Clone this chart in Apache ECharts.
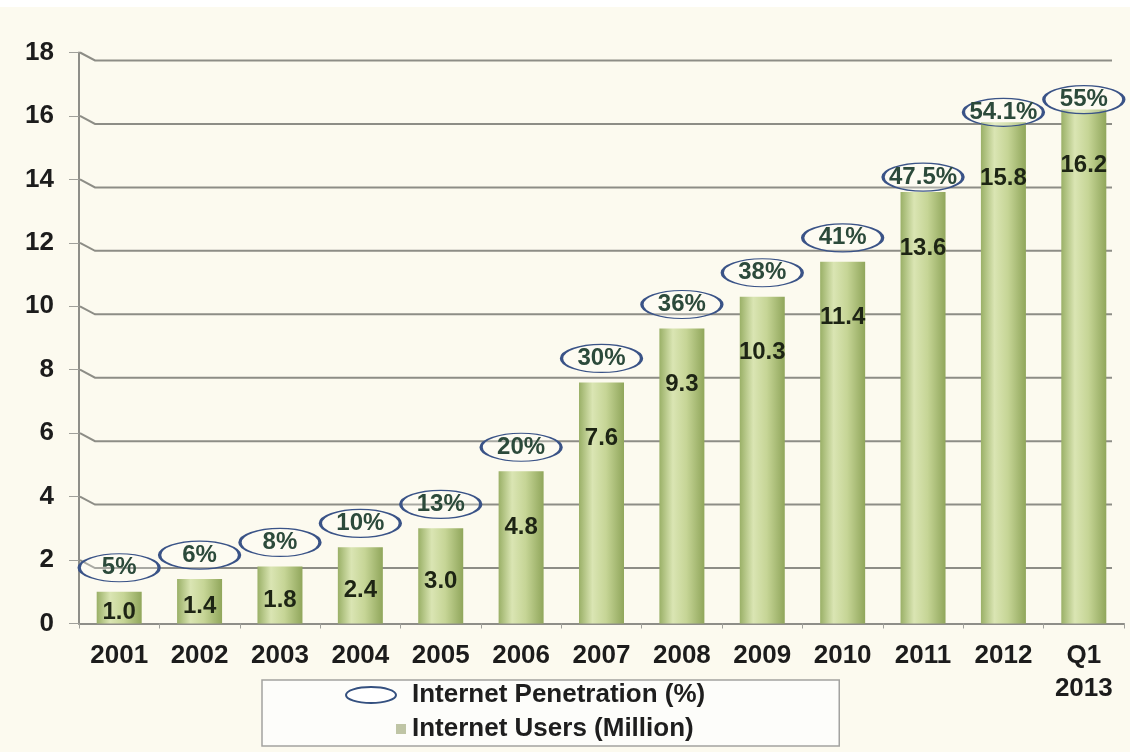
<!DOCTYPE html>
<html><head><meta charset="utf-8">
<script src="https://cdn.jsdelivr.net/npm/echarts@6/dist/echarts.min.js"></script>
<style>html,body{margin:0;padding:0;background:#fcfaef;}#chart{width:1130px;height:752px;}</style>
</head><body><div id="chart"></div>
<script>
const categories = ['2001','2002','2003','2004','2005','2006','2007','2008','2009','2010','2011','2012','Q1\n2013'];
const internetUsers = [1.0,1.4,1.8,2.4,3.0,4.8,7.6,9.3,10.3,11.4,13.6,15.8,16.2];
const penetration = [5,6,8,10,13,20,30,36,38,41,47.5,54.1,55];
const yTicks = [0,2,4,6,8,10,12,14,16,18];

const FONT = '"Liberation Sans", Arial, sans-serif';
const chart = echarts.init(document.getElementById('chart'), null, {renderer:'canvas'});
const barGradient = new echarts.graphic.LinearGradient(0,0,1,0,[
  {offset:0, color:'#9ab067'},
  {offset:0.3, color:'#dae5b3'},
  {offset:0.6, color:'#c6d596'},
  {offset:1, color:'#90a65b'}
]);

const option = {
  backgroundColor:'#fcfaef',
  animation:false,
  graphic:[{type:'rect', left:0, top:0, shape:{width:1130, height:7}, style:{fill:'#ffffff'}, silent:true}],
  grid:{left:79, right:6, top:52.5, bottom:128.5},
  legend:{
    left:262, top:680, orient:'vertical', selectedMode:false,
    itemWidth:62, itemHeight:18, itemGap:8,
    padding:[2,134,4,82],
    backgroundColor:'#fdfdfa', borderColor:'#a3a3a0', borderWidth:1.5,
    textStyle:{fontSize:26, fontWeight:'bold', color:'#1e1e1e', fontFamily:FONT, lineHeight:26},
    data:[
      {name:'Internet Penetration (%)', icon:'path://M0,0 M62,18 M1,9 A25,8 0 1,0 51,9 A25,8 0 1,0 1,9 Z', itemStyle:{color:'#ffffff', borderColor:'#34507f', borderWidth:2}},
      {name:'Internet Users (Million)', icon:'path://M0,0 M62,18 M51,4 L61,4 L61,14 L51,14 Z', itemStyle:{color:'#bfc5a5', borderWidth:0}}
    ]
  },
  xAxis:{
    type:'category', data:categories,
    axisLine:{lineStyle:{color:'#8e8e88', width:2}},
    axisTick:{show:true, length:5, lineStyle:{color:'#a0a09a'}},
    axisLabel:{fontSize:26, fontWeight:'bold', color:'#1c1c1c', fontFamily:FONT, margin:16, lineHeight:33}
  },
  yAxis:{
    type:'value', min:0, max:18, interval:2,
    axisLine:{show:true, lineStyle:{color:'#8e8e88', width:2}},
    axisTick:{show:true, length:10, lineStyle:{color:'#a0a09a'}},
    splitLine:{show:false},
    axisLabel:{fontSize:26, fontWeight:'bold', color:'#1c1c1c', fontFamily:FONT, margin:25}
  },
  series:[
    {
      type:'custom', name:'grid3d', silent:true, z:0,
      data: yTicks.filter(v => v > 0).map(v => [0, v]),
      encode:{x:0, y:1},
      renderItem(params, api){
        const cs = params.coordSys;
        const y = api.coord([0, api.value(1)])[1];
        return {type:'polyline', shape:{points:[[cs.x+1,y],[cs.x+16,y+8],[cs.x+cs.width-12,y+8]]},
                style:{stroke:'#8d8d86', lineWidth:2, fill:null}};
      }
    },
    {
      type:'bar', name:'Internet Users (Million)', z:2, barWidth:45,
      data: internetUsers.map(v => ({value:v, label: v < 4 ? {position:'inside', offset:[0,5]} : {position:'insideTop', distance:44}})),
      itemStyle:{color:barGradient},
      emphasis:{disabled:true},
      label:{show:true, fontSize:24, fontWeight:'bold', color:'#1d2414', fontFamily:FONT,
             formatter: p => Number(p.value).toFixed(1)}
    },
    {
      type:'scatter', name:'Internet Penetration (%)', z:5,
      data: internetUsers.map(v => ({value:v, symbolOffset:[0, v >= 15 ? -10 : (v >= 13 ? -15 : -24)]})),
      symbol:'circle', symbolSize:[80,28],
      itemStyle:{color:'rgba(255,255,252,0.25)', borderColor:'#3a5387', borderWidth:2, opacity:1},
      emphasis:{disabled:true},
      label:{show:true, position:'inside', formatter: p => penetration[p.dataIndex] + '%',
             fontSize:24, fontWeight:'bold', color:'#2c4a3b', fontFamily:FONT}
    }
  ]
};
chart.setOption(option);
</script></body></html>
